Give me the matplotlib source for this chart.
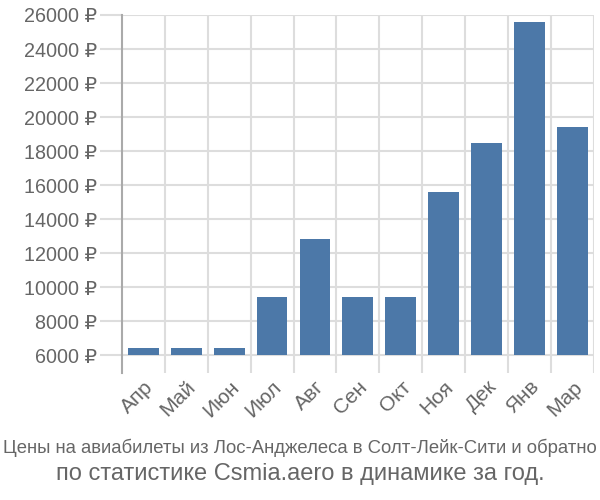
import numpy as np
import matplotlib.pyplot as plt

months = ["Апр", "Май", "Июн", "Июл", "Авг", "Сен", "Окт", "Ноя", "Дек", "Янв", "Мар"]
prices = [6400, 6400, 6400, 9400, 12800, 9400, 9400, 15600, 18500, 25600, 19400]
yticks = [6000, 8000, 10000, 12000, 14000, 16000, 18000, 20000, 22000, 24000, 26000]

base = 6000
bar_color = "#4c78a8"
grid_color = "#dddddd"
text_color = "#666666"

plt.rcParams["font.family"] = ["Liberation Sans", "DejaVu Sans"]

fig = plt.figure(figsize=(6, 5), dpi=100)
ax = fig.add_axes([0.203, 0.254, 0.787, 0.716])

x = np.arange(len(months))
heights = [p - base for p in prices]
ax.bar(x, heights, bottom=base, width=0.72, color=bar_color, zorder=3)

ax.set_xlim(-0.5, len(months) - 0.5)
ax.set_ylim(4950, 26000)

ax.set_yticks(yticks)
ax.set_yticklabels([f"{v} ₽" for v in yticks])
ax.set_xticks(x)
ax.set_xticklabels(months, rotation=45, ha="right", va="top", rotation_mode="anchor")
ax.tick_params(axis="x", length=0, pad=3, labelsize=15, labelcolor=text_color)
ax.tick_params(axis="y", length=16, width=1.5, color=grid_color, pad=2,
               labelsize=14.2, labelcolor=text_color)

# horizontal grid lines at ticks, vertical lines between categories
for v in yticks:
    ax.axhline(v, color=grid_color, lw=1.5, zorder=1)
for b in np.arange(0.5, len(months), 1.0):
    ax.axvline(b, color=grid_color, lw=1.5, zorder=1)

for side in ["top", "right", "bottom"]:
    ax.spines[side].set_visible(False)
ax.spines["left"].set_color("#aaaaaa")
ax.spines["left"].set_linewidth(1.5)

fig.text(0.5, 0.104, "Цены на авиабилеты из Лос-Анджелеса в Солт-Лейк-Сити и обратно",
         ha="center", va="center", fontsize=13.3, color=text_color)
fig.text(0.5, 0.052, "по статистике Csmia.aero в динамике за год.",
         ha="center", va="center", fontsize=17, color=text_color)

fig.savefig("out.png")
